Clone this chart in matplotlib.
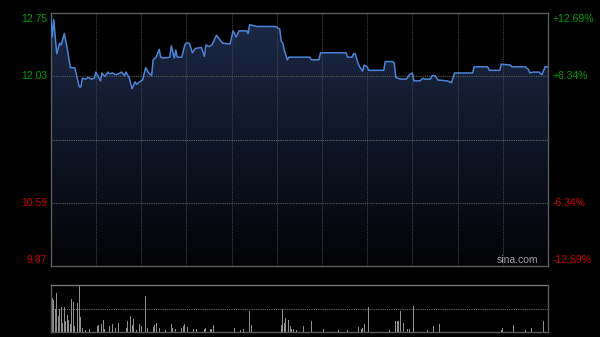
import numpy as np
import matplotlib
matplotlib.use("Agg")
import matplotlib.pyplot as plt
from matplotlib.path import Path
from matplotlib.patches import PathPatch

# ---- data ----
prev_close = 11.31
price_ticks = [12.75, 12.03, 10.59, 9.87]
pct_labels = ["+12.69%", "+6.34%", "-6.34%", "-12.69%"]

# trading-minute index (0..330, HK session) and price at that minute
t_min = [0, 1, 2, 4, 6, 7, 9, 11, 13, 16, 19, 20, 21, 23, 25, 27, 29, 30, 33, 34,
         36, 38, 39, 41, 43, 45, 47, 49, 50, 52, 54, 56, 57, 59, 61, 63, 65, 67, 68, 70,
         72, 73, 75, 79, 80, 82, 83, 84, 87, 89, 90, 92, 94, 96, 100, 102, 103, 105, 107, 110,
         114, 119, 121, 123, 125, 130, 131, 132, 137, 149, 152, 153, 154, 155, 157, 158, 172, 173, 178, 179,
         196, 197, 200, 201, 202, 204, 205, 207, 208, 210, 211, 221, 222, 227, 228, 229, 232, 236, 238, 240,
         241, 245, 247, 248, 252, 253, 255, 257, 263, 266, 268, 280, 281, 290, 291, 298, 299, 305, 306, 315,
         316, 317, 318, 320, 324, 326, 328, 330]
price = [12.73, 12.48, 12.68, 12.29, 12.41, 12.39, 12.52, 12.35, 12.13, 12.13, 11.91, 11.91, 12.01, 12.00, 12.02, 12.00, 12.01, 12.08, 11.98, 12.07,
         12.03, 12.08, 12.06, 12.07, 12.05, 12.06, 12.08, 12.04, 12.08, 12.02, 11.89, 11.97, 11.94, 11.97, 11.99, 12.13, 12.07, 12.04, 12.22, 12.25,
         12.34, 12.25, 12.24, 12.25, 12.38, 12.24, 12.33, 12.25, 12.25, 12.39, 12.41, 12.41, 12.30, 12.35, 12.36, 12.26, 12.39, 12.37, 12.39, 12.50,
         12.41, 12.40, 12.55, 12.48, 12.55, 12.55, 12.52, 12.62, 12.60, 12.60, 12.57, 12.43, 12.41, 12.33, 12.22, 12.25, 12.25, 12.22, 12.22, 12.30,
         12.30, 12.25, 12.25, 12.29, 12.29, 12.18, 12.14, 12.09, 12.16, 12.14, 12.10, 12.10, 12.20, 12.20, 12.18, 12.02, 12.00, 12.00, 12.05, 12.07,
         11.98, 11.98, 12.01, 12.00, 12.00, 12.04, 12.04, 11.99, 11.98, 11.96, 12.07, 12.07, 12.14, 12.14, 12.10, 12.10, 12.17, 12.16, 12.14, 12.14,
         12.12, 12.11, 12.07, 12.08, 12.08, 12.05, 12.14, 12.14]

# volume (relative units) by trading minute
vol_min = [0, 1, 2, 3, 4, 5, 6, 7, 8, 9, 10, 11, 12, 13, 14, 15, 16, 18, 19, 20,
           21, 23, 26, 31, 32, 34, 35, 36, 38, 39, 41, 42, 43, 45, 48, 50, 51, 53, 54, 55,
           57, 59, 60, 63, 64, 68, 69, 70, 72, 76, 80, 81, 83, 87, 88, 89, 91, 95, 97, 102,
           103, 106, 107, 108, 109, 111, 113, 121, 122, 126, 128, 132, 133, 153, 154, 155, 156, 158, 159, 160,
           161, 163, 168, 173, 181, 191, 197, 204, 206, 207, 208, 211, 225, 229, 230, 231, 232, 234, 237, 238,
           241, 250, 254, 258, 263, 265, 299, 300, 307, 315, 319, 326, 327]
vol = [79, 72, 68, 50, 84, 33, 50, 53, 19, 54, 23, 37, 26, 18, 70, 63, 12, 61, 100, 32,
       8, 5, 7, 12, 15, 18, 26, 6, 18, 12, 18, 6, 8, 19, 12, 8, 24, 33, 15, 27,
       5, 18, 12, 77, 8, 11, 15, 19, 8, 5, 18, 8, 6, 8, 12, 18, 11, 6, 6, 6,
       8, 6, 6, 15, 12, 26, 5, 11, 8, 5, 6, 44, 15, 15, 49, 20, 30, 26, 13, 6,
       6, 5, 12, 23, 7, 5, 5, 11, 6, 8, 17, 54, 4, 23, 23, 23, 44, 19, 6, 6,
       56, 5, 12, 18, 6, 6, 5, 8, 15, 5, 8, 5, 23]

# ---- style ----
BG = "#000000"
GRID = "#444444"
SPINE = "#5a5a5a"
GREEN = "#00a000"
RED = "#d00000"
LINE = "#4a84d6"
FONT = ["Liberation Sans", "DejaVu Sans"]

fig = plt.figure(figsize=(6, 3.37), dpi=100, facecolor=BG)
W, H = 600, 337
ax = fig.add_axes([50.7 / W, 1 - 266 / H, 497.3 / W, (266 - 13.3) / H])
axv = fig.add_axes([50.7 / W, 1 - 332 / H, 497.3 / W, (332 - 285) / H])

ymin, ymax = 9.87, 12.75
for a in (ax, axv):
    a.set_facecolor(BG)
    a.set_xlim(0, 330)
    a.set_xticks([])
    a.set_yticks([])
    for s in a.spines.values():
        s.set_color(SPINE)
        s.set_linewidth(1.0)

ax.set_ylim(ymin, ymax)

# gradient fill under the line
grad = np.linspace(0, 1, 256).reshape(-1, 1)
top_c = np.array([0.11, 0.16, 0.28])
bot_c = np.array([0.01, 0.012, 0.022])
img = top_c * (1 - grad[..., None]) + bot_c * grad[..., None]
img = img.reshape(256, 1, 3)
im = ax.imshow(img, extent=[0, 330, ymin, ymax], aspect="auto", origin="upper", zorder=1)
verts = list(zip(t_min, price)) + [(t_min[-1], ymin), (t_min[0], ymin), (t_min[0], price[0])]
codes = [Path.MOVETO] + [Path.LINETO] * (len(verts) - 2) + [Path.CLOSEPOLY]
poly = PathPatch(Path(verts, codes), facecolor="none", edgecolor="none")
ax.add_patch(poly)
im.set_clip_path(poly)

# grid
for v in range(30, 330, 30):
    ax.axvline(v, color=GRID, lw=0.8, ls=(0, (1, 1)), zorder=2)
for yv in [12.03, 10.59]:
    ax.axhline(yv, color="#5a5a5a", lw=0.8, ls=(0, (1, 1)), zorder=2)
ax.axhline(prev_close, color="#6a6a6a", lw=0.8, ls=(0, (1, 1)), zorder=2)

ax.plot(t_min, price, color=LINE, lw=1.1, zorder=3)

# axis labels
left_cols = [GREEN, GREEN, RED, RED]
vas = ["top", "center", "center", "bottom"]
offs = [-0.004, 0, 0, 0.004]
for yv, txt, c, va, o in zip(price_ticks, pct_labels, left_cols, vas, offs):
    yfrac = (yv - ymin) / (ymax - ymin)
    ax.text(-0.007, yfrac + o, f"{yv:.2f}", transform=ax.transAxes, ha="right", va=va,
            color=c, fontsize=7.5, family=FONT)
    ax.text(1.009, yfrac + o, txt, transform=ax.transAxes, ha="left", va=va,
            color=c, fontsize=7.5, family=FONT)

ax.text(0.98, 0.004, "sina.com", transform=ax.transAxes, ha="right", va="bottom",
        color="#a0a0a0", fontsize=7.5, family=FONT, zorder=4)

# volume panel
vmax = max(vol)
axv.set_ylim(0, vmax)
axv.bar(vol_min, vol, width=0.6, color="#8e8e8e", align="center", zorder=2)
axv.axhline(vmax / 2, color="#6a6a6a", lw=0.8, ls=(0, (1, 1)), zorder=1)
axv.spines["top"].set_linestyle((0, (1, 1)))
axv.spines["top"].set_color("#777777")

fig.savefig("out.png", dpi=100, facecolor=BG)
